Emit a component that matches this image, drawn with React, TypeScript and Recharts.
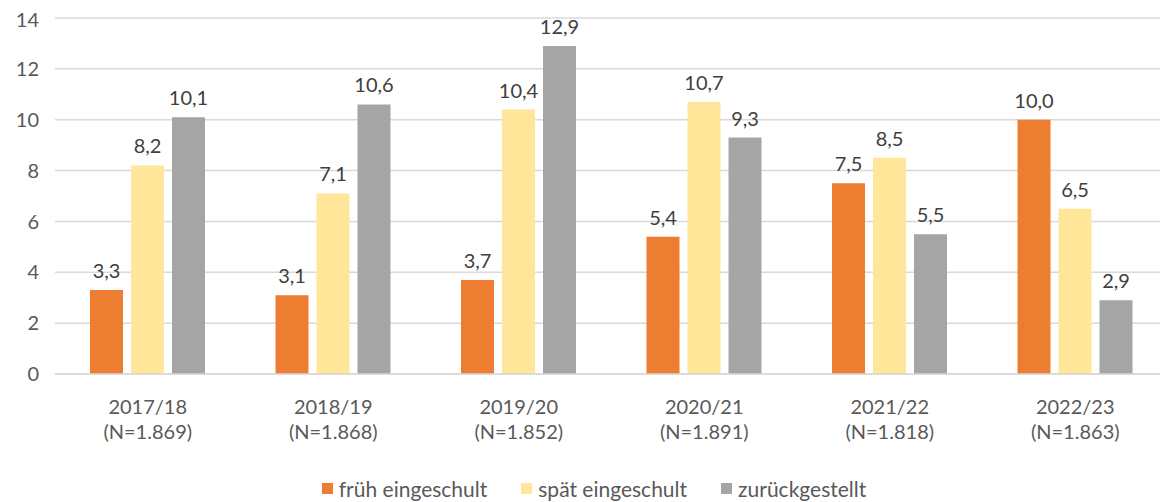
import React from "react";
import { BarChart, Bar, XAxis, YAxis, CartesianGrid, Legend, LabelList } from "recharts";

const years = ["2017/18", "2018/19", "2019/20", "2020/21", "2021/22", "2022/23"];
const nLabels = ["(N=1.869)", "(N=1.868)", "(N=1.852)", "(N=1.891)", "(N=1.818)", "(N=1.863)"];
const frueh = [3.3, 3.1, 3.7, 5.4, 7.5, 10.0];
const spaet = [8.2, 7.1, 10.4, 10.7, 8.5, 6.5];
const zurueck = [10.1, 10.6, 12.9, 9.3, 5.5, 2.9];
const yTicks = [0, 2, 4, 6, 8, 10, 12, 14];

const series = [
  { key: "frueh", name: "früh eingeschult", color: "#ED7D31" },
  { key: "spaet", name: "spät eingeschult", color: "#FFE699" },
  { key: "zurueck", name: "zurückgestellt", color: "#A5A5A5" },
];

const data = years.map((y, i) => ({
  year: y,
  n: nLabels[i],
  frueh: frueh[i],
  spaet: spaet[i],
  zurueck: zurueck[i],
}));

const FONT = "Lato, 'Open Sans', sans-serif";
const TXT = "#595959";

const fmt = (v: any) => Number(v).toFixed(1).replace(".", ",");

const XTick = (props: any) => {
  const { x, y, payload, index } = props;
  return (
    <text x={x} y={y} textAnchor="middle" fill={TXT} fontSize={20} fontFamily={FONT}>
      <tspan x={x} dy={32}>{payload.value}</tspan>
      <tspan x={x} dy={25}>{nLabels[index]}</tspan>
    </text>
  );
};

const LegendContent = () => (
  <div style={{ display: "flex", justifyContent: "center", alignItems: "center", fontFamily: FONT, fontSize: 21, color: TXT, height: 24, paddingLeft: 12 }}>
    {series.map((s, i) => (
      <div key={s.key} style={{ display: "flex", alignItems: "center", marginLeft: i === 0 ? 0 : 34 }}>
        <div style={{ width: 11, height: 11, background: s.color, marginRight: 6 }} />
        <span>{s.name}</span>
      </div>
    ))}
  </div>
);

export default function App() {
  return (
    <BarChart
      width={1160}
      height={494}
      data={data}
      margin={{ top: 10, right: 0, left: 0, bottom: 2 }}
      barCategoryGap="19%"
      barGap={8}
    >
      <CartesianGrid vertical={false} stroke="#D9D9D9" strokeWidth={1.5} />
      <XAxis
        dataKey="year"
        tick={<XTick />}
        tickLine={false}
        axisLine={{ stroke: "#D9D9D9", strokeWidth: 1.5 }}
        height={102}
        interval={0}
      />
      <YAxis
        domain={[0, 14]}
        ticks={yTicks}
        width={47}
        tickLine={false}
        axisLine={false}
        tick={{ fill: TXT, fontSize: 20, fontFamily: FONT, dx: -8 }}
      />
      <Legend verticalAlign="bottom" height={24} content={<LegendContent />} />
      {series.map((s) => (
        <Bar key={s.key} dataKey={s.key} name={s.name} fill={s.color} barSize={33} isAnimationActive={false}>
          <LabelList
            dataKey={s.key}
            position="top"
            offset={12}
            formatter={fmt}
            style={{ fill: "#404040", fontSize: 20, fontFamily: FONT }}
          />
        </Bar>
      ))}
    </BarChart>
  );
}
